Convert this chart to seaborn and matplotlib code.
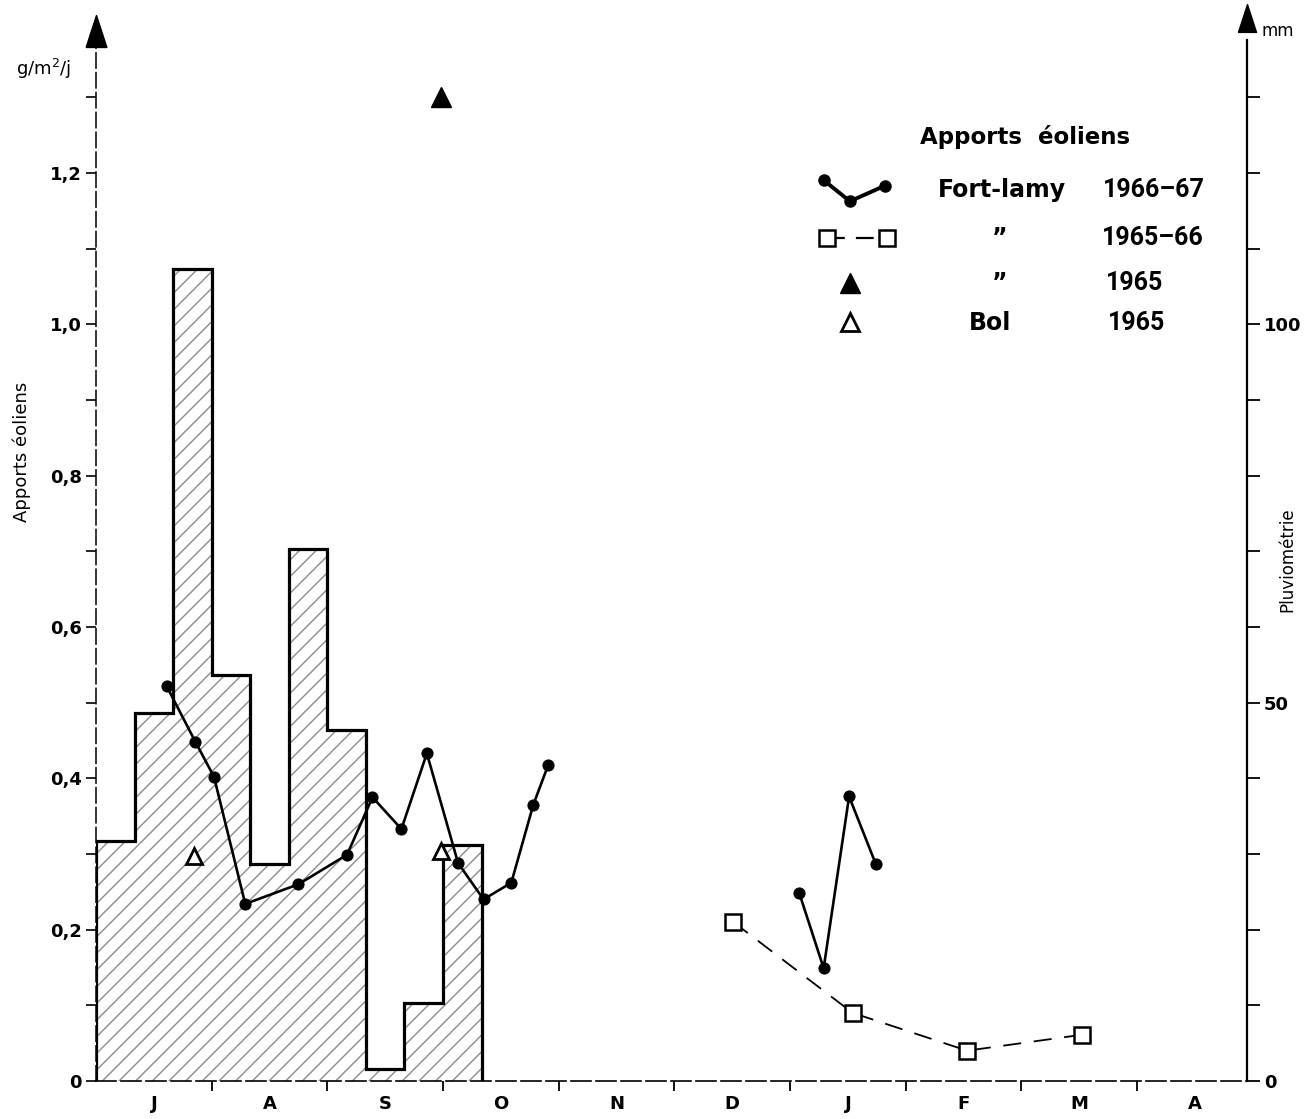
import numpy as np
import pandas as pd
import seaborn as sns
import matplotlib.pyplot as plt
from matplotlib.ticker import FixedLocator, FuncFormatter

sns.set_theme(style="ticks")
plt.rcParams["font.family"] = ["DejaVu Sans"]
plt.rcParams["text.color"] = "black"
plt.rcParams["xtick.color"] = "black"
plt.rcParams["ytick.color"] = "black"
plt.rcParams["axes.labelcolor"] = "black"
plt.rcParams["hatch.linewidth"] = 1.0

# ----------------------------
# Data (x in months counted from 1 July)
# ----------------------------
months = ["J", "A", "S", "O", "N", "D", "J", "F", "M", "A"]

# rainfall by decade (10-day periods), July -> October, mm
rain_edges = np.arange(11) / 3
rain_mm = [31.7, 48.6, 107.3, 53.6, 28.7, 70.3, 46.4, 1.6, 10.3, 31.2]

# Fort-Lamy 1966-67 (g/m2/day), two sampling periods
fl6667_x = [0.61, 0.86, 1.02, 1.29, 1.75, 2.17, 2.39, 2.64, 2.86, 3.13, 3.35, 3.59, 3.78, 3.91,
            6.08, 6.29, 6.51, 6.74]
fl6667_y = [0.522, 0.448, 0.402, 0.234, 0.260, 0.299, 0.375, 0.333, 0.433, 0.288, 0.240, 0.262,
            0.365, 0.418,
            0.248, 0.149, 0.376, 0.287]
fl6667_seg = [1] * 14 + [2] * 4

# Fort-Lamy 1965-66
fl6566_x = [5.51, 6.54, 7.53, 8.52]
fl6566_y = [0.210, 0.090, 0.040, 0.061]

# Fort-Lamy 1965
fl65_x = [2.98]
fl65_y = [1.30]

# Bol 1965
bol65_x = [0.85, 2.98]
bol65_y = [0.297, 0.304]

# ----------------------------
# Figure
# ----------------------------
fig = plt.figure(figsize=(13.08, 11.19), dpi=100)
ax = fig.add_axes([0.0734, 0.034, 0.880, 0.9303])
ax2 = ax.twinx()

ymax = 1.376
ax.set_xlim(0, 9.95)
ax.set_ylim(0, ymax)
ax2.set_ylim(0, ymax * 100)

# rainfall: hatched area + step outline
ax2.stairs(rain_mm, rain_edges, fill=True, hatch="//", facecolor="none",
           edgecolor="0.55", linewidth=0)
ax2.stairs(rain_mm, rain_edges, fill=False, color="black", linewidth=2.3)

ax.set_zorder(ax2.get_zorder() + 1)
ax.patch.set_visible(False)

df6667 = pd.DataFrame({"x": fl6667_x, "y": fl6667_y, "seg": fl6667_seg})
sns.lineplot(data=df6667, x="x", y="y", units="seg", estimator=None, sort=False,
             color="black", linewidth=1.9, marker="o", markersize=8,
             markeredgecolor="black", ax=ax)

df6566 = pd.DataFrame({"x": fl6566_x, "y": fl6566_y})
sns.lineplot(data=df6566, x="x", y="y", estimator=None, sort=False, color="black",
             linewidth=1.3, dashes=False, ax=ax)
ax.lines[-1].set_dashes([10, 7])
ax.plot(fl6566_x, fl6566_y, ls="none", marker="s", markersize=12,
        markerfacecolor="white", markeredgecolor="black", markeredgewidth=1.8)

ax.plot(fl65_x, fl65_y, ls="none", marker="^", markersize=14, color="black")
ax.plot(bol65_x, bol65_y, ls="none", marker="^", markersize=12,
        markerfacecolor="white", markeredgecolor="black", markeredgewidth=2)

# ----------------------------
# Axes styling
# ----------------------------
ax.spines["top"].set_visible(False)
ax2.spines["top"].set_visible(False)
ax2.spines["left"].set_visible(False)
ax2.spines["bottom"].set_visible(False)
ax.spines["right"].set_visible(False)
ax.spines["left"].set_linestyle((0, (10, 3)))
ax.spines["left"].set_linewidth(1.1)
ax.spines["bottom"].set_linestyle((0, (12, 3)))
ax.spines["bottom"].set_linewidth(1.2)
ax2.spines["right"].set_linewidth(1.6)
for sp in ax.spines.values():
    sp.set_color("black")
ax2.spines["right"].set_color("black")

ax.xaxis.set_major_locator(FixedLocator(range(1, 10)))
ax.xaxis.set_major_formatter(FuncFormatter(lambda v, p: ""))
ax.set_xticks(np.arange(len(months)) + 0.5, months, minor=True)
ax.tick_params(axis="x", which="major", direction="out", length=7, width=1.3)
ax.tick_params(axis="x", which="minor", length=0, pad=10, labelsize=13)
for t in ax.get_xticklabels(minor=True):
    t.set_fontweight("bold")

ax.set_yticks([0, 0.2, 0.4, 0.6, 0.8, 1.0, 1.2])
ax.yaxis.set_minor_locator(FixedLocator(np.arange(1, 14) / 10))
ax.yaxis.set_major_formatter(FuncFormatter(
    lambda v, p: "0" if abs(v) < 1e-9 else f"{v:.1f}".replace(".", ",")))
ax.tick_params(axis="y", which="both", direction="out", length=7, width=1.2,
               labelsize=13, pad=3)
for t in ax.get_yticklabels():
    t.set_fontweight("bold")

ax2.set_yticks([0, 50, 100])
ax2.yaxis.set_minor_locator(FixedLocator(np.arange(10, 140, 10)))
ax2.tick_params(axis="y", which="both", direction="out", length=9, width=1.3,
                labelsize=13, pad=3)
for t in ax2.get_yticklabels():
    t.set_fontweight("bold")

ax.set_xlabel("")
ax.set_ylabel("")
ax2.set_ylabel("")
ax.grid(False)
ax2.grid(False)

# arrow heads on the vertical axes (isoceles triangles)
arrow = [(-0.65, -1), (0.65, -1), (0, 1), (-0.65, -1)]
ax.plot([0], [1.0086], marker=arrow, markersize=23, color="black",
        transform=ax.transAxes, clip_on=False)
ax.plot([1], [1.0207], marker=arrow, markersize=20, color="black",
        transform=ax.transAxes, clip_on=False)

fig.text(0.033, 0.938, "g/m$^2$/j", fontsize=13, ha="center", va="center")
fig.text(0.977, 0.972, "mm", fontsize=12, ha="center", va="center")
fig.text(0.0168, 0.596, "Apports éoliens", fontsize=13, rotation=90,
         ha="center", va="center")
fig.text(0.984, 0.50, "Pluviométrie", fontsize=12, rotation=90,
         ha="center", va="center")

# ----------------------------
# Legend (drawn by hand, like the original)
# ----------------------------
tr = ax.transAxes
wkw = dict(fontsize=17, fontweight="bold", va="center", transform=tr)
ykw = dict(fontsize=18, fontweight="bold", va="center", transform=tr,
           family=["Roboto", "DejaVu Sans"])
ax.text(0.807, 0.907, "Apports  éoliens", ha="center", fontsize=16.5,
        fontweight="bold", va="center", transform=tr)

ax.plot([0.6325, 0.655, 0.6854], [0.865, 0.845, 0.860], color="black", lw=2.8,
        marker="o", ms=8, transform=tr, clip_on=False)
ax.text(0.787, 0.856, "Fort-lamy", ha="center", **wkw)
ax.text(0.875, 0.856, "1966–67", ha="left", **ykw)

ax.plot([0.635, 0.687], [0.810, 0.810], color="black", lw=1.6, dashes=[8, 5],
        marker="s", ms=12, mfc="white", mec="black", mew=1.8, transform=tr)
ax.text(0.785, 0.810, "\u201d", ha="center", **wkw)
ax.text(0.874, 0.810, "1965–66", ha="left", **ykw)

ax.plot([0.655], [0.767], marker="^", ms=14, color="black", transform=tr)
ax.text(0.785, 0.767, "\u201d", ha="center", **wkw)
ax.text(0.877, 0.767, "1965", ha="left", **ykw)

ax.plot([0.655], [0.729], marker="^", ms=13, mfc="white", mec="black", mew=2,
        transform=tr)
ax.text(0.777, 0.728, "Bol", ha="center", **wkw)
ax.text(0.879, 0.728, "1965", ha="left", **ykw)

fig.savefig("out.png", dpi=100)
